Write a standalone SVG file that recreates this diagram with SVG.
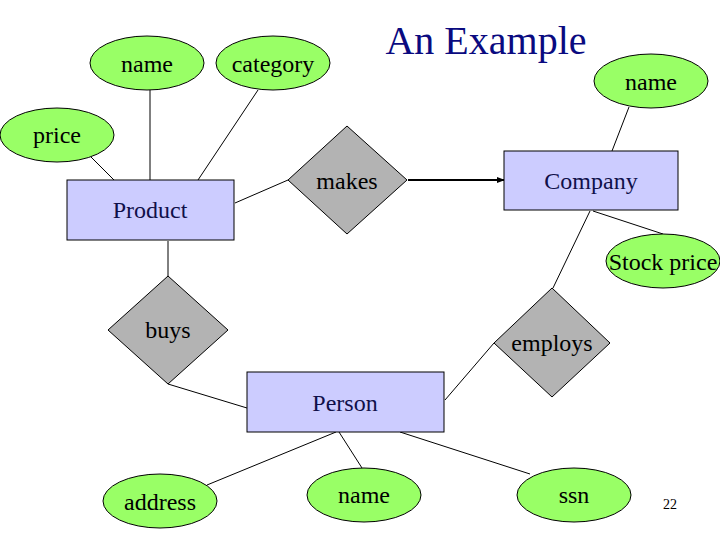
<svg xmlns="http://www.w3.org/2000/svg" width="720" height="540" viewBox="0 0 720 540">
<defs>
<style>
.attr{fill:#99ff66;stroke:#000;stroke-width:1}
.ent{fill:#ccccff;stroke:#000;stroke-width:1}
.rel{fill:#b3b3b3;stroke:#000;stroke-width:1}
text{font-family:"Liberation Serif","DejaVu Serif","Times New Roman",Times,serif}
.lbl{font-size:24px;fill:#000;text-anchor:middle}
.elbl{font-size:24px;fill:#10104a;text-anchor:middle}
.conn line{stroke:#000;stroke-width:1}
</style>
<marker id="arr" markerWidth="8" markerHeight="6" refX="7" refY="3" orient="auto" markerUnits="userSpaceOnUse">
<path d="M0,0 L8,3 L0,6 Z" fill="#000"/>
</marker>
</defs>
<rect width="720" height="540" fill="#fff"/>
<text x="486" y="54" font-size="40" fill="#0a0a80" text-anchor="middle">An Example</text>
<g class="conn" id="connectors">
<line x1="150" y1="90" x2="150" y2="180"/>
<line x1="258" y1="90" x2="198" y2="180"/>
<line x1="91" y1="157" x2="114" y2="180"/>
<line x1="235" y1="203" x2="288" y2="180"/>
<line x1="408" y1="180" x2="504" y2="180" style="stroke-width:2" marker-end="url(#arr)"/>
<line x1="629" y1="107" x2="612" y2="151"/>
<line x1="593" y1="211" x2="663" y2="234"/>
<line x1="590" y1="211" x2="553" y2="288"/>
<line x1="168" y1="241" x2="168" y2="276"/>
<line x1="168" y1="384" x2="247" y2="408"/>
<line x1="445" y1="400" x2="494" y2="343"/>
<line x1="336" y1="432" x2="207" y2="485"/>
<line x1="339" y1="432" x2="362" y2="468"/>
<line x1="400" y1="432" x2="530" y2="474"/>
</g>
<g id="attr-name-product"><ellipse class="attr" cx="147" cy="63" rx="57" ry="27"/><text class="lbl" x="147" y="72">name</text></g>
<g id="attr-category"><ellipse class="attr" cx="273" cy="63" rx="57" ry="27"/><text class="lbl" x="273" y="72">category</text></g>
<g id="attr-price"><ellipse class="attr" cx="57" cy="135" rx="57" ry="27"/><text class="lbl" x="57" y="143">price</text></g>
<g id="ent-product"><rect class="ent" x="67" y="180" width="167" height="60"/><text class="elbl" x="150" y="218">Product</text></g>
<g id="rel-makes"><polygon class="rel" points="347,126 407,180 347,234 288,180"/><text class="lbl" x="347" y="189">makes</text></g>
<g id="ent-company"><rect class="ent" x="504" y="151" width="174" height="59"/><text class="elbl" x="591" y="189">Company</text></g>
<g id="attr-name-company"><ellipse class="attr" cx="651" cy="81" rx="57" ry="27"/><text class="lbl" x="651" y="90">name</text></g>
<g id="attr-stock"><ellipse class="attr" cx="663" cy="261" rx="57" ry="27"/><text class="lbl" x="663" y="270">Stock price</text></g>
<g id="rel-buys"><polygon class="rel" points="168,276 228,330 168,384 108,330"/><text class="lbl" x="168" y="338">buys</text></g>
<g id="rel-employs"><polygon class="rel" points="552,288 610,343 552,397 494,343"/><text class="lbl" x="552" y="351">employs</text></g>
<g id="ent-person"><rect class="ent" x="247" y="372" width="197" height="60"/><text class="elbl" x="345" y="411">Person</text></g>
<g id="attr-address"><ellipse class="attr" cx="160" cy="501" rx="57" ry="27"/><text class="lbl" x="160" y="510">address</text></g>
<g id="attr-name-person"><ellipse class="attr" cx="364" cy="495" rx="57" ry="27"/><text class="lbl" x="364" y="503">name</text></g>
<g id="attr-ssn"><ellipse class="attr" cx="574" cy="495" rx="57" ry="27"/><text class="lbl" x="574" y="503">ssn</text></g>
<text x="670" y="509" font-size="14" fill="#000" text-anchor="middle">22</text>
</svg>
